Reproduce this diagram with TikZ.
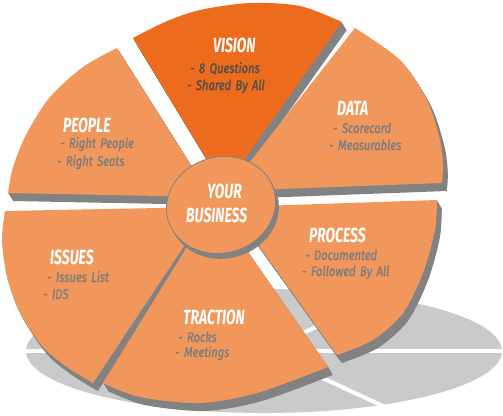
\documentclass[tikz,border=0pt]{standalone}
\usepackage{fontspec}
\newfontfamily\titlefont[FakeStretch=0.68]{Fira Sans}
\newfontfamily\subfont[FakeStretch=0.8,FakeBold=1.3,WordSpace=1.5]{Fira Sans}
\definecolor{lor}{HTML}{F2975C}
\definecolor{dor}{HTML}{EC6B1C}
\definecolor{ext}{HTML}{828282}
\definecolor{shad}{HTML}{CACACA}
\definecolor{subg}{HTML}{7D7D7D}
\definecolor{subd}{HTML}{4F4F4F}
\newcommand\sliceext[1]{\foreach \k in {1,...,8}{\fill[ext,shift={(0.6*\k,\k)}] #1;}}
\tikzset{
  ttl/.style={font=\titlefont\bfseries\itshape\fontsize{20.5}{22}\selectfont, text=white, inner sep=0pt, anchor=base west},
  sub/.style={font=\subfont\itshape\fontsize{14}{16}\selectfont, text=subg, inner sep=0pt, anchor=base west},
  subv/.style={sub, text=subd}
}
\begin{document}
\begin{tikzpicture}[x=1pt,y=-1pt]
\useasboundingbox (0,0) rectangle (503,415);
\fill[white] (0,0) rectangle (503,415);
% shadow
\fill[shad] (264,351) ellipse [x radius=238, y radius=62];
\foreach \a in {0,60,120,180,240,300}
  \draw[white, line width=4pt] (264,351) -- ({264+300*cos(\a)},{351-80*sin(\a)});
% extrusions
\sliceext{(224,188) -- plot[smooth] coordinates {(133,38) (165,22) (200,10) (250,3) (300,6) (342,22)} -- cycle}
\sliceext{(227,191) -- plot[smooth] coordinates {(355,28) (400,60) (427,100) (440,140) (443,165) (442,183)} -- cycle}
\sliceext{(211,197) -- plot[smooth] coordinates {(117,48) (83,67) (50,97) (27,133) (13,167) (8,193)} -- cycle}
\sliceext{(210,207) -- plot[smooth] coordinates {(5,211) (2,240) (7,277) (20,313) (43,347) (67,367) (93,383)} -- cycle}
\sliceext{(214,203) -- plot[smooth] coordinates {(103,383) (140,397) (200,403) (257,393) (328,367)} -- cycle}
\sliceext{(231,207) -- plot[smooth] coordinates {(437,200) (435,230) (423,273) (403,313) (373,340) (337,355)} -- cycle}
% faces
\fill[dor] (224,188) -- plot[smooth] coordinates {(133,38) (165,22) (200,10) (250,3) (300,6) (342,22)} -- cycle;
\fill[lor] (227,191) -- plot[smooth] coordinates {(355,28) (400,60) (427,100) (440,140) (443,165) (442,183)} -- cycle;
\fill[lor] (211,197) -- plot[smooth] coordinates {(117,48) (83,67) (50,97) (27,133) (13,167) (8,193)} -- cycle;
\fill[lor] (210,207) -- plot[smooth] coordinates {(5,211) (2,240) (7,277) (20,313) (43,347) (67,367) (93,383)} -- cycle;
\fill[lor] (214,203) -- plot[smooth] coordinates {(103,383) (140,397) (200,403) (257,393) (328,367)} -- cycle;
\fill[lor] (231,207) -- plot[smooth] coordinates {(437,200) (435,230) (423,273) (403,313) (373,340) (337,355)} -- cycle;
% centre disc
\foreach \k in {1,...,6}
  \fill[ext, rotate around={15:(221,205)}] ({221+0.3*\k},{205+\k}) ellipse [x radius=55, y radius=48];
\filldraw[fill=lor, draw=ext, line width=0.8pt, rotate around={15:(221,205)}] (221,205) ellipse [x radius=55, y radius=48];
% texts
\node[ttl] (vision) at (213,52) {VISION};
\node[subv] (v1) at (190,73) {- 8 Questions};
\node[subv] (v2) at (187,90) {- Shared By All};
\node[ttl] (data) at (337,115) {DATA};
\node[sub] (d1) at (333,133) {- Scorecard};
\node[sub] (d2) at (329,150) {- Measurables};
\node[ttl] (people) at (63,132) {PEOPLE};
\node[sub] (p1) at (60,148) {- Right People};
\node[sub] (p2) at (57,166) {- Right Seats};
\node[ttl] (your) at (207,198) {YOUR};
\node[ttl] (business) at (186,222) {BUSINESS};
\node[ttl] (process) at (309,242) {PROCESS};
\node[sub] (pr1) at (305,260) {- Documented};
\node[sub] (pr2) at (302,276) {- Followed By All};
\node[ttl] (issues) at (50,264) {ISSUES};
\node[sub] (i1) at (47,282) {- Issues List};
\node[sub] (i2) at (43,299) {- IDS};
\node[ttl] (traction) at (183,324) {TRACTION};
\node[sub] (t1) at (178,342) {- Rocks};
\node[sub] (t2) at (175,357) {- Meetings};
\end{tikzpicture}
\end{document}
